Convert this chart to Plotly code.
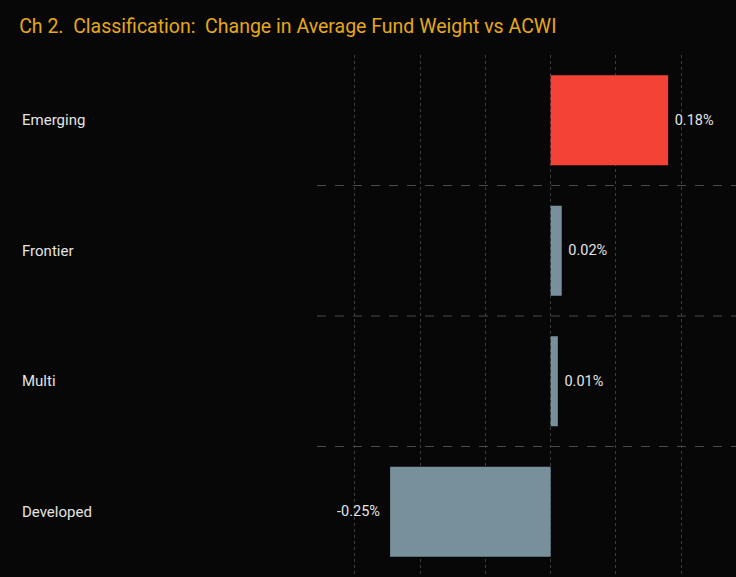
import plotly.graph_objects as go

categories = ["Emerging", "Frontier", "Multi", "Developed"]
values = [0.18, 0.017, 0.011, -0.246]
labels = ["0.18%", "0.02%", "0.01%", "-0.25%"]
colors = ["#f44336", "#78909c", "#78909c", "#78909c"]
title = "Ch 2.  Classification:  Change in Average Fund Weight vs ACWI"

padded = [("\u00a0" + t) if v >= 0 else (t + "\u00a0\u00a0") for t, v in zip(labels, values)]

fig = go.Figure(go.Bar(
    y=categories, x=values, orientation="h",
    marker=dict(color=colors, line=dict(width=0)),
    text=padded, textposition="outside", cliponaxis=False,
    textfont=dict(color="#e4e4e4", size=14.5, family="Roboto"),
    width=0.69, hoverinfo="skip",
))

for i in range(len(categories) - 1):
    fig.add_shape(type="line", xref="paper", x0=0, x1=1, yref="y", y0=i + 0.5, y1=i + 0.5,
                  line=dict(color="#4a4a4a", width=1, dash="dash"), layer="below")

for c in categories:
    fig.add_annotation(text=c, xref="paper", x=-0.71, xanchor="left", yref="y", y=c,
                       showarrow=False, font=dict(color="#e4e4e4", size=15, family="Roboto"))

fig.update_layout(
    width=736, height=577,
    paper_bgcolor="#070707", plot_bgcolor="#070707",
    margin=dict(l=317, r=0, t=55, b=0),
    title=dict(text=title, x=0.026, xanchor="left", y=0.955, yanchor="middle",
               font=dict(color="#e6a817", size=19.5, family="Roboto")),
    showlegend=False,
    xaxis=dict(range=[-0.358, 0.284], dtick=0.1, tick0=0, showgrid=True, gridcolor="#3c3c3c",
               griddash="dot", gridwidth=1, zeroline=False, showticklabels=False,
               ticks="", showline=False, fixedrange=True),
    yaxis=dict(showticklabels=False, showgrid=False, zeroline=False,
               ticks="", showline=False, autorange=False, range=[3.5, -0.5]),
)

fig.write_html("out.html", config={"displayModeBar": False})

with open("out.html", "r", encoding="utf-8") as f:
    html = f.read()
html = html.replace("<body>", '<body style="margin:0;padding:0;background:#070707;">', 1)
with open("out.html", "w", encoding="utf-8") as f:
    f.write(html)
